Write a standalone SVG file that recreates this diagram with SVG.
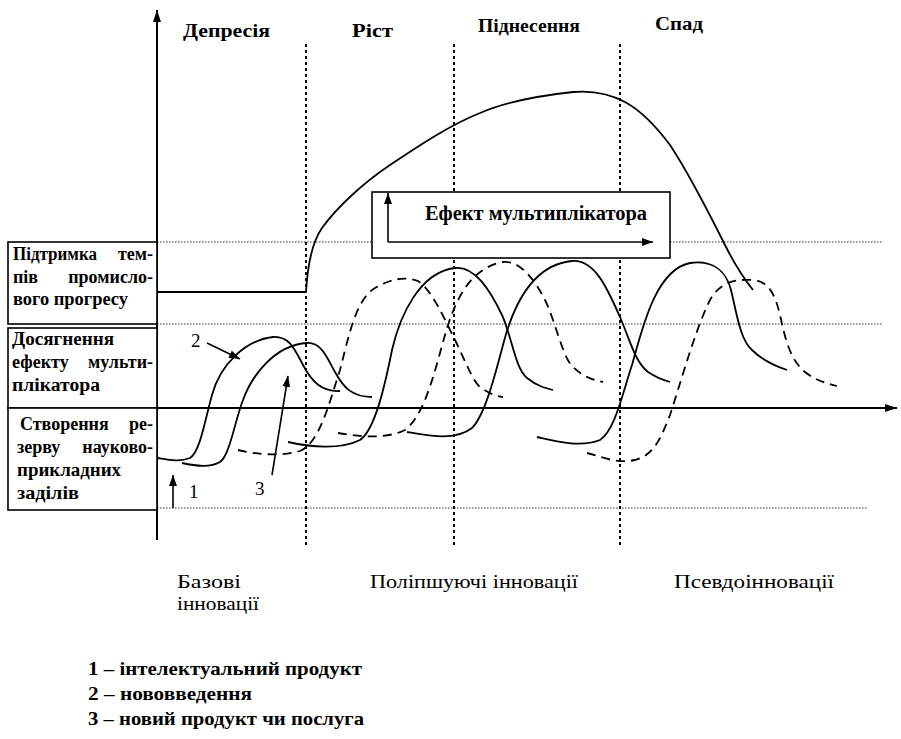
<svg xmlns="http://www.w3.org/2000/svg" width="901" height="739" viewBox="0 0 901 739">
<style>
.t{font-family:"Liberation Serif","Times New Roman",serif;fill:#000}
.b{font-weight:bold}
.r{text-anchor:end}
.grid{stroke:#333;stroke-width:1;stroke-dasharray:1.5 1.5;fill:none}
.vdot{stroke:#000;stroke-width:2;stroke-dasharray:3 3;fill:none}
.curve{fill:none;stroke:#000;stroke-width:1.8}
.dash{stroke-dasharray:9 6}
.box{fill:#fff;stroke:#000;stroke-width:1.6}
.ax{stroke:#000;stroke-width:2;fill:none}
.arr{stroke:#000;stroke-width:1.6;fill:none}
</style>
<defs>
<marker id="ah" viewBox="0 0 12 8" refX="12" refY="4" markerWidth="12" markerHeight="8" markerUnits="userSpaceOnUse" orient="auto">
<path d="M0,0 L12,4 L0,8 z" fill="#000"/>
</marker>
<marker id="ahs" viewBox="0 0 11 8" refX="11" refY="4" markerWidth="11" markerHeight="8" markerUnits="userSpaceOnUse" orient="auto">
<path d="M0,0 L11,4 L0,8 z" fill="#000"/>
</marker>
</defs>
<rect width="901" height="739" fill="#fff"/>

<g id="grid">
<line class="grid" x1="157" y1="242" x2="883" y2="242"/>
<line class="grid" x1="157" y1="324" x2="883" y2="324"/>
<line class="grid" x1="157" y1="508" x2="867" y2="508"/>
<line class="vdot" x1="306" y1="44" x2="306" y2="547"/>
<line class="vdot" x1="454" y1="44" x2="454" y2="547"/>
<line class="vdot" x1="620" y1="44" x2="620" y2="547"/>
</g>

<g id="phase-labels">
<text class="t b" x="183" y="37" font-size="18" textLength="87" lengthAdjust="spacingAndGlyphs">Депресія</text>
<text class="t b" x="352" y="37" font-size="18" textLength="41" lengthAdjust="spacingAndGlyphs">Ріст</text>
<text class="t b" x="478" y="32" font-size="18" textLength="102" lengthAdjust="spacingAndGlyphs">Піднесення</text>
<text class="t b" x="655" y="30" font-size="18" textLength="48" lengthAdjust="spacingAndGlyphs">Спад</text>
</g>

<g id="multiplier">
<rect class="box" x="372" y="192" width="298" height="66"/>
<text class="t b" x="425" y="220" font-size="20" textLength="222" lengthAdjust="spacingAndGlyphs">Ефект мультиплікатора</text>
</g>

<g id="connectors">
<path class="curve" d="M157,292 L306,292 C307,275 310,245 322,228 C335,210 360,185 390,165 C420,145 450,125 480,113 C510,100 545,95 573,92 C595,90 612,95 625,102 C640,110 655,125 670,145 C690,175 710,215 725,245 C735,265 745,280 753,290"/>
<path class="curve" d="M158,458 C170,460 180,462 190,458 C200,452 205,420 212,395 C220,365 245,340 273,337 C290,336 295,350 303,365 C312,382 322,392 340,391"/>
<path class="curve" d="M182,463 C195,466 210,468 220,462 C230,455 235,420 243,400 C252,375 275,345 307,343 C322,342 328,360 335,372 C343,387 352,397 372,397"/>
<path class="curve dash" d="M238,450 C255,454 280,457 300,451 C320,443 330,400 340,370 C348,340 355,300 375,288 C390,279 405,276 418,281 C432,290 445,320 455,340 C465,360 472,380 480,387 C488,393 495,396 503,397"/>
<path class="curve" d="M288,442 C310,447 340,450 360,440 C375,430 385,385 392,350 C400,315 420,272 455,268 C475,266 490,290 502,315 C512,337 515,368 527,378 C537,386 545,388 553,390"/>
<path class="curve dash" d="M338,433 C355,436 385,440 405,430 C425,415 435,370 445,335 C455,300 470,268 503,262 C520,260 535,280 545,300 C555,320 562,355 572,366 C582,376 592,380 603,382"/>
<path class="curve" d="M407,432 C430,436 455,441 472,428 C485,415 495,375 503,345 C512,310 530,265 572,261 C595,259 608,290 620,317 C630,340 635,362 648,372 C657,378 663,380 670,382"/>
<path class="curve" d="M537,437 C555,441 580,448 600,440 C615,430 622,395 632,365 C642,330 655,270 690,263 C712,260 726,270 731,290 C736,310 740,340 752,350 C762,360 775,366 787,370"/>
<path class="curve dash" d="M587,453 C600,456 615,464 635,460 C655,455 662,435 670,415 C680,385 695,330 710,300 C720,282 735,279 753,280 C770,281 776,298 780,315 C785,338 790,360 805,372 C815,380 825,383 837,386"/>
<line class="arr" x1="388" y1="242" x2="388" y2="193" marker-end="url(#ahs)"/>
<line class="arr" x1="388" y1="242" x2="653" y2="242" marker-end="url(#ahs)"/>
<line class="arr" x1="207" y1="343" x2="240" y2="359" marker-end="url(#ahs)"/>
<line class="arr" x1="272" y1="475" x2="288" y2="376" marker-end="url(#ahs)"/>
<line class="arr" x1="173" y1="508" x2="173" y2="475" marker-end="url(#ahs)"/>
<line class="ax" x1="157" y1="540" x2="157" y2="10" marker-end="url(#ah)"/>
<line class="ax" x1="8" y1="408" x2="897" y2="408" marker-end="url(#ah)"/>
</g>

<g id="box-support">
<rect class="box" x="8" y="242" width="149" height="82"/>
<text class="t b" font-size="18" x="13" y="260" textLength="84" lengthAdjust="spacingAndGlyphs">Підтримка</text>
<text class="t b r" font-size="18" x="153" y="260">тем-</text>
<text class="t b" font-size="18" x="13" y="283">пів</text>
<text class="t b r" font-size="18" x="153" y="283">промисло-</text>
<text class="t b" font-size="18" x="13" y="305" textLength="115" lengthAdjust="spacingAndGlyphs">вого прогресу</text>
</g>

<g id="box-effect">
<rect class="box" x="8" y="328" width="149" height="80"/>
<text class="t b" font-size="18" x="12" y="345" textLength="102" lengthAdjust="spacingAndGlyphs">Досягнення</text>
<text class="t b" font-size="18" x="12" y="368">ефекту</text>
<text class="t b r" font-size="18" x="153" y="368">мульти-</text>
<text class="t b" font-size="18" x="12" y="391" textLength="88" lengthAdjust="spacingAndGlyphs">плікатора</text>
</g>

<g id="box-reserve">
<rect class="box" x="8" y="408" width="149" height="102"/>
<text class="t b" font-size="18" x="20" y="430">Створення</text>
<text class="t b r" font-size="18" x="153" y="430">ре-</text>
<text class="t b" font-size="18" x="17" y="453">зерву</text>
<text class="t b r" font-size="18" x="153" y="453">науково-</text>
<text class="t b" font-size="18" x="17" y="476" textLength="104" lengthAdjust="spacingAndGlyphs">прикладних</text>
<text class="t b" font-size="18" x="17" y="499" textLength="62" lengthAdjust="spacingAndGlyphs">заділів</text>
</g>

<g id="markers-labels">
<text class="t" font-size="19" x="191" y="347">2</text>
<text class="t" font-size="19" x="255" y="495">3</text>
<text class="t" font-size="19" x="189" y="498">1</text>
</g>

<g id="innovation-labels">
<text class="t" font-size="19" x="177" y="588" textLength="64" lengthAdjust="spacingAndGlyphs">Базові</text>
<text class="t" font-size="19" x="177" y="610" textLength="82" lengthAdjust="spacingAndGlyphs">інновації</text>
<text class="t" font-size="19" x="370" y="588" textLength="208" lengthAdjust="spacingAndGlyphs">Поліпшуючі інновації</text>
<text class="t" font-size="19" x="674" y="588" textLength="160" lengthAdjust="spacingAndGlyphs">Псевдоінновації</text>
</g>

<g id="legend">
<text class="t b" font-size="19" x="88" y="675" textLength="274" lengthAdjust="spacingAndGlyphs">1 – інтелектуальний продукт</text>
<text class="t b" font-size="19" x="88" y="700" textLength="164" lengthAdjust="spacingAndGlyphs">2 – нововведення</text>
<text class="t b" font-size="19" x="88" y="725" textLength="276" lengthAdjust="spacingAndGlyphs">3 – новий продукт чи послуга</text>
</g>
</svg>
